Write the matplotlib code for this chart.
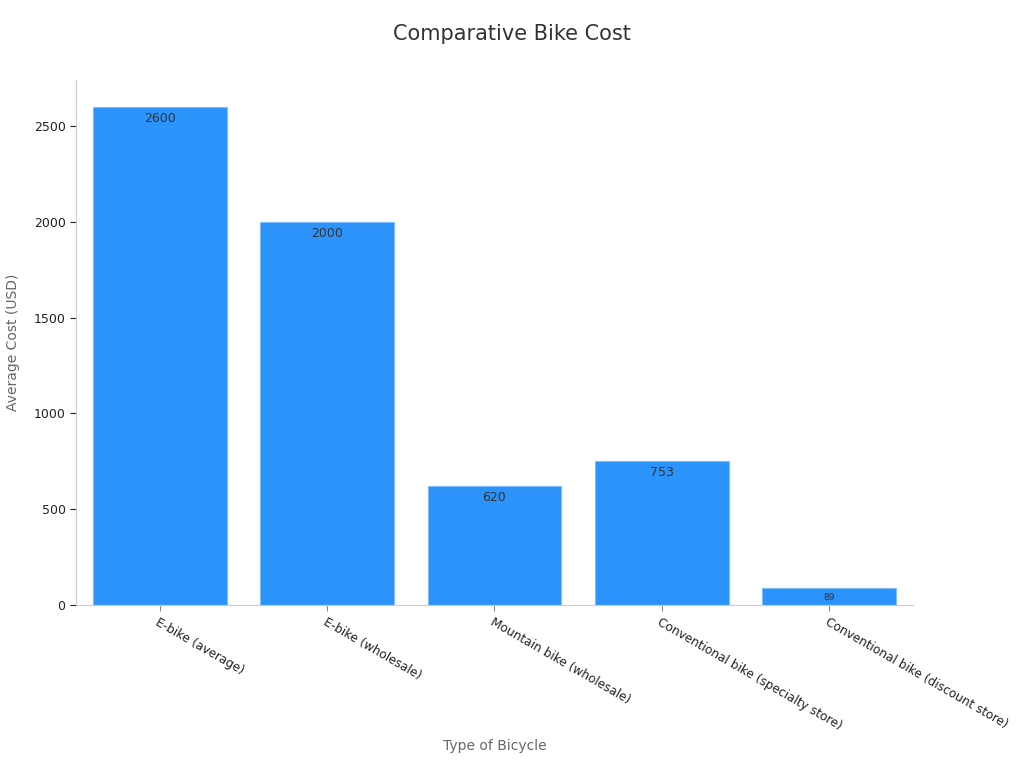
import matplotlib
matplotlib.use("Agg")
import matplotlib.pyplot as plt

categories = ["E-bike (average)", "E-bike (wholesale)", "Mountain bike (wholesale)",
              "Conventional bike (specialty store)", "Conventional bike (discount store)"]
costs = [2600, 2000, 620, 753, 89]

plt.rcParams["font.family"] = "DejaVu Sans"
fig = plt.figure(figsize=(10.24, 7.68), dpi=100)
ax = fig.add_axes([0.0742, 0.2122, 0.8174, 0.6836])
x = range(len(categories))
bars = ax.bar(x, costs, width=0.8, color="#2b93f9", edgecolor="#7fbcf9", linewidth=0.8)
for i, v in enumerate(costs):
    fs = 9 if v > 300 else 6.5
    ax.text(i, v - 25, str(v), ha="center", va="top", fontsize=fs, color="#333333")
ax.set_xlim(-0.5, 4.5)
ax.set_ylim(0, 2740)
ax.set_xticks(list(x))
ax.set_xticklabels(categories, rotation=-30, ha="left", rotation_mode="anchor", fontsize=8.7, color="#222222")
ax.set_yticks([0, 500, 1000, 1500, 2000, 2500])
ax.tick_params(axis="y", labelsize=9, colors="#222222", length=4)
ax.tick_params(axis="x", length=4, colors="#888888", labelcolor="#222222")
for s in ["top", "right"]:
    ax.spines[s].set_visible(False)
for s in ["left", "bottom"]:
    ax.spines[s].set_color("#cccccc")
ax.set_ylabel("Average Cost (USD)", fontsize=10, color="#666666", labelpad=10)
ax.set_xlabel("Type of Bicycle", fontsize=10, color="#666666", labelpad=5)
fig.text(0.5, 0.956, "Comparative Bike Cost", ha="center", va="center", fontsize=15, color="#333333")
fig.savefig("out.png", dpi=100)
